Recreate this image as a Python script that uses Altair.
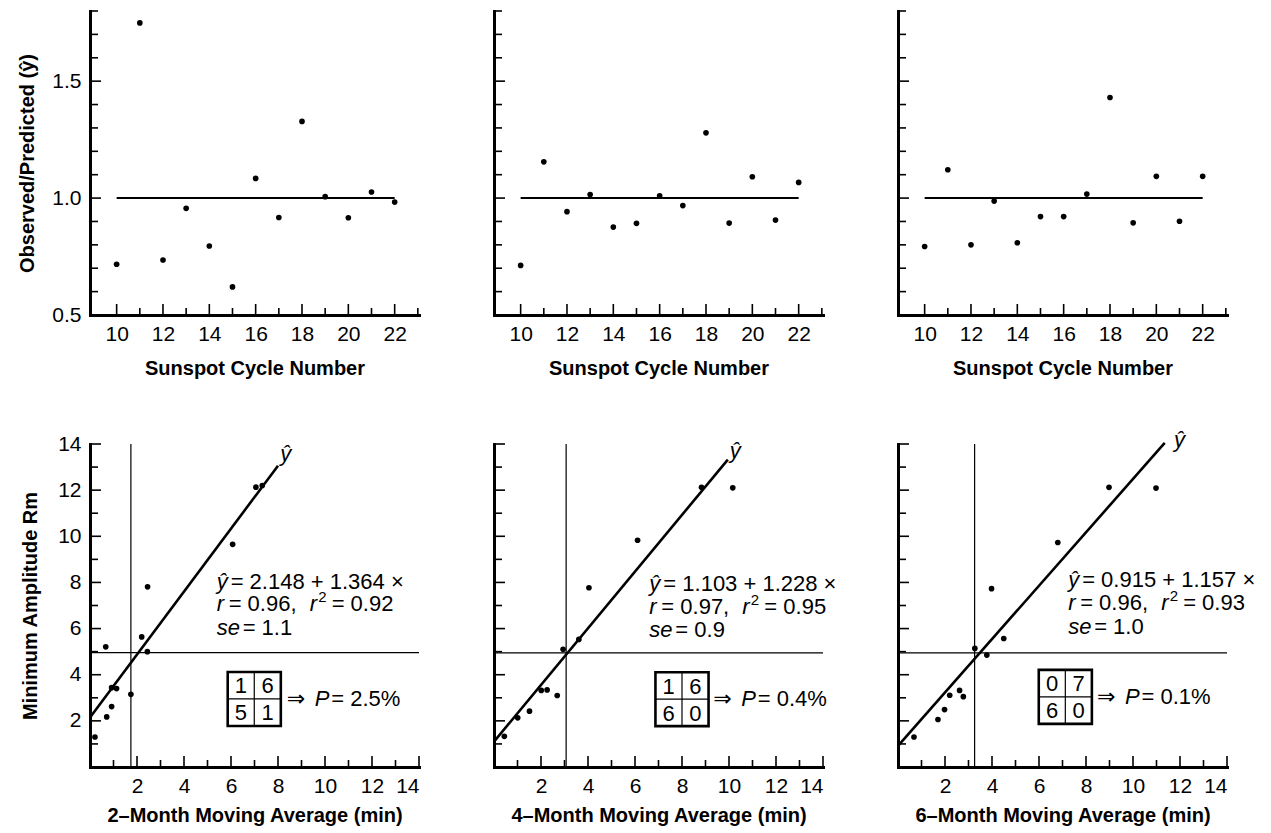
import altair as alt
import pandas as pd

# ---------------- data ----------------
cycles = list(range(10, 23))
ratio_2m = [0.717, 1.749, 0.735, 0.956, 0.795, 0.620, 1.084, 0.917, 1.328, 1.006, 0.916, 1.026, 0.983]
ratio_4m = [0.712, 1.155, 0.942, 1.015, 0.876, 0.892, 1.010, 0.968, 1.279, 0.893, 1.091, 0.906, 1.067]
ratio_6m = [0.793, 1.121, 0.800, 0.987, 0.809, 0.921, 0.921, 1.017, 1.430, 0.894, 1.093, 0.901, 1.093]

avg2_x = [0.21, 0.71, 0.92, 0.92, 1.13, 0.67, 1.74, 2.20, 2.44, 2.45, 6.07, 7.06, 7.33]
avg2_y = [1.30, 2.17, 2.62, 3.44, 3.40, 5.21, 3.15, 5.64, 5.00, 7.81, 9.65, 12.13, 12.20]
avg4_x = [0.44, 1.01, 1.51, 2.01, 2.26, 2.69, 2.94, 3.61, 4.04, 6.11, 8.83, 10.16]
avg4_y = [1.33, 2.13, 2.42, 3.32, 3.34, 3.10, 5.10, 5.53, 7.77, 9.83, 12.12, 12.10]
avg6_x = [0.68, 1.70, 1.98, 2.20, 2.62, 2.78, 3.27, 3.78, 4.50, 3.98, 6.80, 8.98, 10.98]
avg6_y = [1.30, 2.06, 2.49, 3.11, 3.32, 3.05, 5.14, 4.85, 5.57, 7.73, 9.73, 12.12, 12.09]

window_names = ["2", "4", "6"]
intercepts = [2.148, 1.103, 0.915]
slopes = [1.364, 1.228, 1.157]
fit_x_end = [8.0, 9.95, 11.35]
r_vals = ["0.96", "0.97", "0.96"]
r2_vals = ["0.92", "0.95", "0.93"]
se_vals = ["1.1", "0.9", "1.0"]
p_vals = ["2.5", "0.4", "0.1"]
table_cells = [["1", "6", "5", "1"], ["1", "6", "6", "0"], ["0", "7", "6", "0"]]
vline_x = [1.74, 3.07, 3.26]
hline_y = [4.96, 4.95, 4.95]

# annotation anchors (data coordinates)
eq_x = [5.39, 6.61, 7.24]
eq_y = [[8.02, 7.05, 6.03], [7.92, 6.95, 5.92], [8.09, 7.09, 6.07]]
hat_x = [8.33, 10.27, 11.98]
hat_y = [13.55, 13.70, 14.17]
box_x = [5.86, 6.87, 5.99]
box_y = [1.78, 1.77, 1.87]
p_x = [8.37, 9.33, 8.47]

top_x_major = [10, 12, 14, 16, 18, 20, 22]
top_x_minor = [11, 13, 15, 17, 19, 21, 23]
top_y_major = [0.5, 1.0, 1.5]
top_y_minor = [0.6, 0.7, 0.8, 0.9, 1.1, 1.2, 1.3, 1.4, 1.6, 1.7, 1.8]
bot_major = [2, 4, 6, 8, 10, 12, 14]
bot_minor = [1, 3, 5, 7, 9, 11, 13]

# ---------------- style ----------------
W = 329
H_TOP = 304
H_BOT = 323
FONT = "Liberation Sans, Arial, DejaVu Sans, sans-serif"
TFONT = "Liberation Sans, Arial, sans-serif"
BOX_W = 2.26
BOX_H = 2.34
DOT = 32


def tick_layers(xs, ys, xaxis, yaxis, xmaj, xmin, ymaj, ymin, H):
    layers = []
    for vals, ln in ((xmaj, 11), (xmin, 7)):
        d = pd.DataFrame({"v": vals})
        layers.append(
            alt.Chart(d).mark_rule(color="black", strokeWidth=1.6).encode(
                x=alt.X("v:Q", scale=xs, axis=xaxis),
                y=alt.value(H),
                y2=alt.value(H - ln),
            )
        )
    for vals, ln in ((ymaj, 11), (ymin, 8)):
        d = pd.DataFrame({"v": vals})
        layers.append(
            alt.Chart(d).mark_rule(color="black", strokeWidth=1.6).encode(
                y=alt.Y("v:Q", scale=ys, axis=yaxis),
                x=alt.value(0),
                x2=alt.value(ln),
            )
        )
    return layers


def top_panel(i, ratios):
    xs = alt.Scale(domain=[8.85, 23.05], nice=False, zero=False)
    ys = alt.Scale(domain=[0.5, 1.8], nice=False, zero=False)
    first = i == 0
    if first:
        yaxis = alt.Axis(values=top_y_major, format=".1f",
                         title="Observed/Predicted (ŷ)",
                         labelPadding=9, titlePadding=14)
    else:
        yaxis = alt.Axis(values=top_y_major, labels=False, title=None)
    xaxis = alt.Axis(values=top_x_major, title="Sunspot Cycle Number",
                     labelPadding=8, titlePadding=14)
    df = pd.DataFrame({"cycle": cycles, "ratio": ratios})
    pts = alt.Chart(df).mark_circle(size=DOT, color="black", opacity=1).encode(
        x=alt.X("cycle:Q", scale=xs, axis=xaxis),
        y=alt.Y("ratio:Q", scale=ys, axis=yaxis),
    )
    ref = pd.DataFrame({"cycle": [cycles[0], cycles[-1]], "ratio": [1.0, 1.0]})
    line = alt.Chart(ref).mark_line(color="black", strokeWidth=2).encode(
        x=alt.X("cycle:Q", scale=xs, axis=xaxis),
        y=alt.Y("ratio:Q", scale=ys, axis=yaxis),
    )
    layers = [pts, line] + tick_layers(xs, ys, xaxis, yaxis, top_x_major, top_x_minor,
                                       top_y_major, top_y_minor, H_TOP)
    return alt.layer(*layers).properties(width=W, height=H_TOP)


def bottom_panel(i, xv, yv):
    xs = alt.Scale(domain=[0, 14], nice=False, zero=False)
    ys = alt.Scale(domain=[0, 14], nice=False, zero=False)
    first = i == 0
    if first:
        yaxis = alt.Axis(values=bot_major, title="Minimum Amplitude Rm",
                         labelPadding=9, titlePadding=17)
    else:
        yaxis = alt.Axis(values=bot_major, labels=False, title=None)
    xaxis = alt.Axis(values=bot_major,
                     title=f"{window_names[i]}–Month Moving Average (min)",
                     labelPadding=8, titlePadding=9)

    def X(f="x"):
        return alt.X(f"{f}:Q", scale=xs, axis=xaxis)

    def Y(f="y"):
        return alt.Y(f"{f}:Q", scale=ys, axis=yaxis)

    df = pd.DataFrame({"x": xv, "y": yv})
    pts = alt.Chart(df).mark_circle(size=DOT, color="black", opacity=1).encode(x=X(), y=Y())
    a, b, xe = intercepts[i], slopes[i], fit_x_end[i]
    fit = pd.DataFrame({"x": [0.0, xe], "y": [a, a + b * xe]})
    fit_line = alt.Chart(fit).mark_line(color="black", strokeWidth=2.6).encode(x=X(), y=Y())

    vl = pd.DataFrame({"x": [vline_x[i]], "y": [0.0], "y2": [14.0]})
    vrule = alt.Chart(vl).mark_rule(color="black", strokeWidth=1.2).encode(
        x=X(), y=Y(), y2="y2:Q")
    hl = pd.DataFrame({"y": [hline_y[i]], "x": [0.0], "x2": [14.0]})
    hrule = alt.Chart(hl).mark_rule(color="black", strokeWidth=1.2).encode(
        y=Y(), x=X(), x2="x2:Q")

    def seg(x, y, text, dx=0, dy=0, italic=False, size=22, align="left"):
        d = pd.DataFrame({"x": [x], "y": [y]})
        return alt.Chart(d).mark_text(
            text=text, align=align, baseline="middle", dx=dx, dy=dy,
            font=FONT, fontSize=size, fontStyle="italic" if italic else "normal",
            color="black",
        ).encode(x=X(), y=Y())

    ex = eq_x[i]
    y1, y2, y3 = eq_y[i]
    texts = [
        seg(hat_x[i], hat_y[i], "ŷ", italic=True, align="center"),
        seg(ex, y1, "ŷ", italic=True),
        seg(ex, y1, f"= {a:.3f} + {b:.3f} ×", dx=14),
        seg(ex, y2, "r", italic=True),
        seg(ex, y2, f"= {r_vals[i]},", dx=12),
        seg(ex, y2, "r", dx=93, italic=True),
        seg(ex, y2, "2", dx=101.5, dy=-7, size=15),
        seg(ex, y2, f"= {r2_vals[i]}", dx=115),
        seg(ex, y3, "se", italic=True),
        seg(ex, y3, f"= {se_vals[i]}", dx=26),
    ]

    bx, by = box_x[i], box_y[i]
    box = pd.DataFrame({"x": [bx], "x2": [bx + BOX_W], "y": [by], "y2": [by + BOX_H]})
    box_rect = alt.Chart(box).mark_rect(fill=None, fillOpacity=0, stroke="black",
                                        strokeWidth=2.6).encode(
        x=X(), x2="x2:Q", y=Y(), y2="y2:Q")
    inner = pd.DataFrame({
        "x": [bx + BOX_W / 2, bx], "x2": [bx + BOX_W / 2, bx + BOX_W],
        "y": [by, by + BOX_H / 2], "y2": [by + BOX_H, by + BOX_H / 2],
    })
    inner_rules = alt.Chart(inner).mark_rule(color="black", strokeWidth=1.2).encode(
        x=X(), x2="x2:Q", y=Y(), y2="y2:Q")
    cells = pd.DataFrame({
        "x": [bx + BOX_W / 4, bx + 3 * BOX_W / 4, bx + BOX_W / 4, bx + 3 * BOX_W / 4],
        "y": [by + 3 * BOX_H / 4, by + 3 * BOX_H / 4, by + BOX_H / 4, by + BOX_H / 4],
        "t": table_cells[i],
    })
    cell_text = alt.Chart(cells).mark_text(font=FONT, fontSize=22, color="black",
                                           baseline="middle", align="center", dy=1).encode(
        x=X(), y=Y(), text="t:N")
    py = by + BOX_H / 2
    ptexts = [
        seg(p_x[i], py, "⇒"),
        seg(p_x[i], py, "P", dx=28, italic=True),
        seg(p_x[i], py, f"= {p_vals[i]}%", dx=44.5),
    ]

    layers = [pts, fit_line, vrule, hrule, box_rect, inner_rules, cell_text] + texts + ptexts
    layers += tick_layers(xs, ys, xaxis, yaxis, bot_major, bot_minor, bot_major, bot_minor, H_BOT)
    return alt.layer(*layers).properties(width=W, height=H_BOT)


panels = [
    top_panel(0, ratio_2m), top_panel(1, ratio_4m), top_panel(2, ratio_6m),
    bottom_panel(0, avg2_x, avg2_y), bottom_panel(1, avg4_x, avg4_y),
    bottom_panel(2, avg6_x, avg6_y),
]

chart = alt.concat(
    *panels, columns=3, bounds="flush", align="each",
    spacing=alt.RowColnumber(row=129, column=75),
).properties(
    padding={"left": 9, "top": 2, "right": 5, "bottom": 5},
    background="white",
).configure_view(stroke=None).configure_axis(
    domainColor="black", domainWidth=3, domainCap="square",
    ticks=False, tickSize=0, grid=False,
    labelFont=FONT, labelFontSize=21, labelColor="black",
    titleFont=TFONT, titleFontSize=20, titleFontWeight="bold", titleColor="black",
)

chart.save("out.html", embed_options={"renderer": "svg", "actions": False})
